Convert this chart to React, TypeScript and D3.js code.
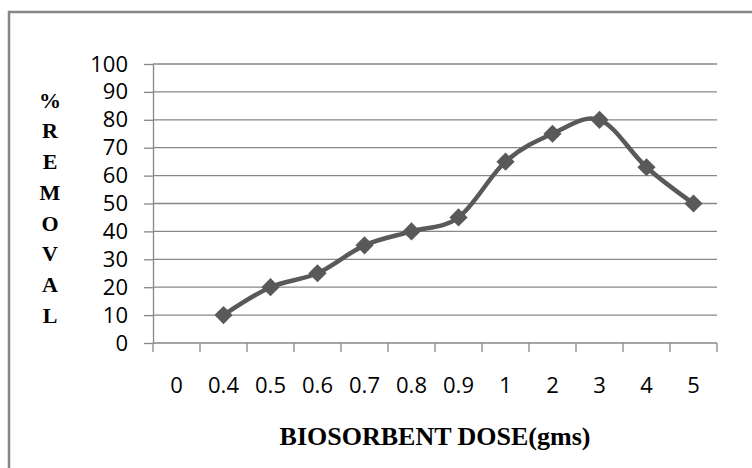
import * as d3 from 'd3';
import { useEffect, useRef } from 'react';

const doses = ['0', '0.4', '0.5', '0.6', '0.7', '0.8', '0.9', '1', '2', '3', '4', '5'];
const removal: (number | null)[] = [null, 10, 20, 25, 35, 40, 45, 65, 75, 80, 63, 50];
const yTicks = [0, 10, 20, 30, 40, 50, 60, 70, 80, 90, 100];
const yTitle = ['%', 'R', 'E', 'M', 'O', 'V', 'A', 'L'];
const xTitle = 'BIOSORBENT DOSE(gms)';

const App = () => {
  const svgRef = useRef<SVGSVGElement | null>(null);

  useEffect(() => {
    if (!svgRef.current) return;
    const svg = d3.select(svgRef.current);
    svg.selectAll('*').remove();

    const width = 752;
    const height = 468;
    const plot = { left: 153, right: 717, top: 64, bottom: 343 };
    const grey = '#878787';
    const lineColor = '#595959';

    svg.append('rect').attr('width', width).attr('height', height).attr('fill', '#fff');

    // outer chart border (runs off the right and bottom edges)
    svg
      .append('rect')
      .attr('x', 9)
      .attr('y', 12)
      .attr('width', 780)
      .attr('height', 500)
      .attr('fill', 'none')
      .attr('stroke', grey)
      .attr('stroke-width', 2.5);

    const x = d3.scaleBand().domain(doses).range([plot.left, plot.right]).padding(0);
    const y = d3.scaleLinear().domain([0, 100]).range([plot.bottom, plot.top]);

    // gridlines
    svg
      .append('g')
      .selectAll('line')
      .data(yTicks.filter((t) => t > 0))
      .enter()
      .append('line')
      .attr('x1', plot.left)
      .attr('x2', plot.right)
      .attr('y1', (d) => y(d))
      .attr('y2', (d) => y(d))
      .attr('stroke', grey)
      .attr('stroke-width', 1.3);

    // y axis
    const yAxis = svg
      .append('g')
      .attr('transform', `translate(${plot.left},0)`)
      .call(d3.axisLeft(y).tickValues(yTicks).tickSize(9).tickPadding(16).tickSizeOuter(0));
    yAxis.select('.domain').attr('stroke', grey).attr('stroke-width', 1.3);
    yAxis.selectAll('line').attr('stroke', grey).attr('stroke-width', 1.3);
    yAxis
      .selectAll('text')
      .attr('font-family', 'Open Sans')
      .attr('font-size', '22px')
      .attr('fill', '#000');

    // x axis with ticks at category boundaries
    const xAxisG = svg.append('g');
    xAxisG
      .append('line')
      .attr('x1', plot.left)
      .attr('x2', plot.right)
      .attr('y1', plot.bottom)
      .attr('y2', plot.bottom)
      .attr('stroke', grey)
      .attr('stroke-width', 1.3);
    const bounds = doses.map((d) => x(d) as number).concat([plot.right]);
    xAxisG
      .selectAll('line.tick')
      .data(bounds)
      .enter()
      .append('line')
      .attr('class', 'tick')
      .attr('x1', (d) => d)
      .attr('x2', (d) => d)
      .attr('y1', plot.bottom)
      .attr('y2', plot.bottom + 9)
      .attr('stroke', grey)
      .attr('stroke-width', 1.3);
    xAxisG
      .selectAll('text')
      .data(doses)
      .enter()
      .append('text')
      .attr('x', (d) => (x(d) as number) + x.bandwidth() / 2)
      .attr('y', 393)
      .attr('text-anchor', 'middle')
      .attr('font-family', 'Open Sans')
      .attr('font-size', '22px')
      .attr('fill', '#000')
      .text((d) => d);

    // series line
    const pts = doses
      .map((d, i) => ({ d, v: removal[i] }))
      .filter((p) => p.v !== null) as { d: string; v: number }[];
    const cx = (p: { d: string }) => (x(p.d) as number) + x.bandwidth() / 2;
    const line = d3
      .line<{ d: string; v: number }>()
      .x(cx)
      .y((p) => y(p.v))
      .curve(d3.curveCatmullRom.alpha(0));
    svg
      .append('path')
      .datum(pts)
      .attr('d', line)
      .attr('fill', 'none')
      .attr('stroke', lineColor)
      .attr('stroke-width', 4.5)
      .attr('stroke-linejoin', 'round')
      .attr('stroke-linecap', 'round');

    // diamond markers
    const diamond = d3.symbol(d3.symbolSquare, 165);
    svg
      .append('g')
      .selectAll('path')
      .data(pts)
      .enter()
      .append('path')
      .attr('d', diamond)
      .attr('transform', (p) => `translate(${cx(p)},${y(p.v)}) rotate(45)`)
      .attr('fill', lineColor);

    // y title, stacked letters
    svg
      .append('g')
      .selectAll('text')
      .data(yTitle)
      .enter()
      .append('text')
      .attr('x', 50)
      .attr('y', (_, i) => 100 + i * 30.7)
      .attr('dy', '0.35em')
      .attr('text-anchor', 'middle')
      .attr('font-family', 'Liberation Serif')
      .attr('font-weight', 'bold')
      .attr('font-size', '22px')
      .attr('fill', '#000')
      .text((d) => d);

    // x title
    svg
      .append('text')
      .attr('x', (plot.left + plot.right) / 2)
      .attr('y', 445)
      .attr('text-anchor', 'middle')
      .attr('font-family', 'Liberation Serif')
      .attr('font-weight', 'bold')
      .attr('font-size', '26px')
      .attr('fill', '#000')
      .text(xTitle);
  }, []);

  return (
    <svg
      ref={svgRef}
      width={752}
      height={468}
      style={{ position: 'absolute', left: 0, top: 0 }}
    ></svg>
  );
};

export default App;
